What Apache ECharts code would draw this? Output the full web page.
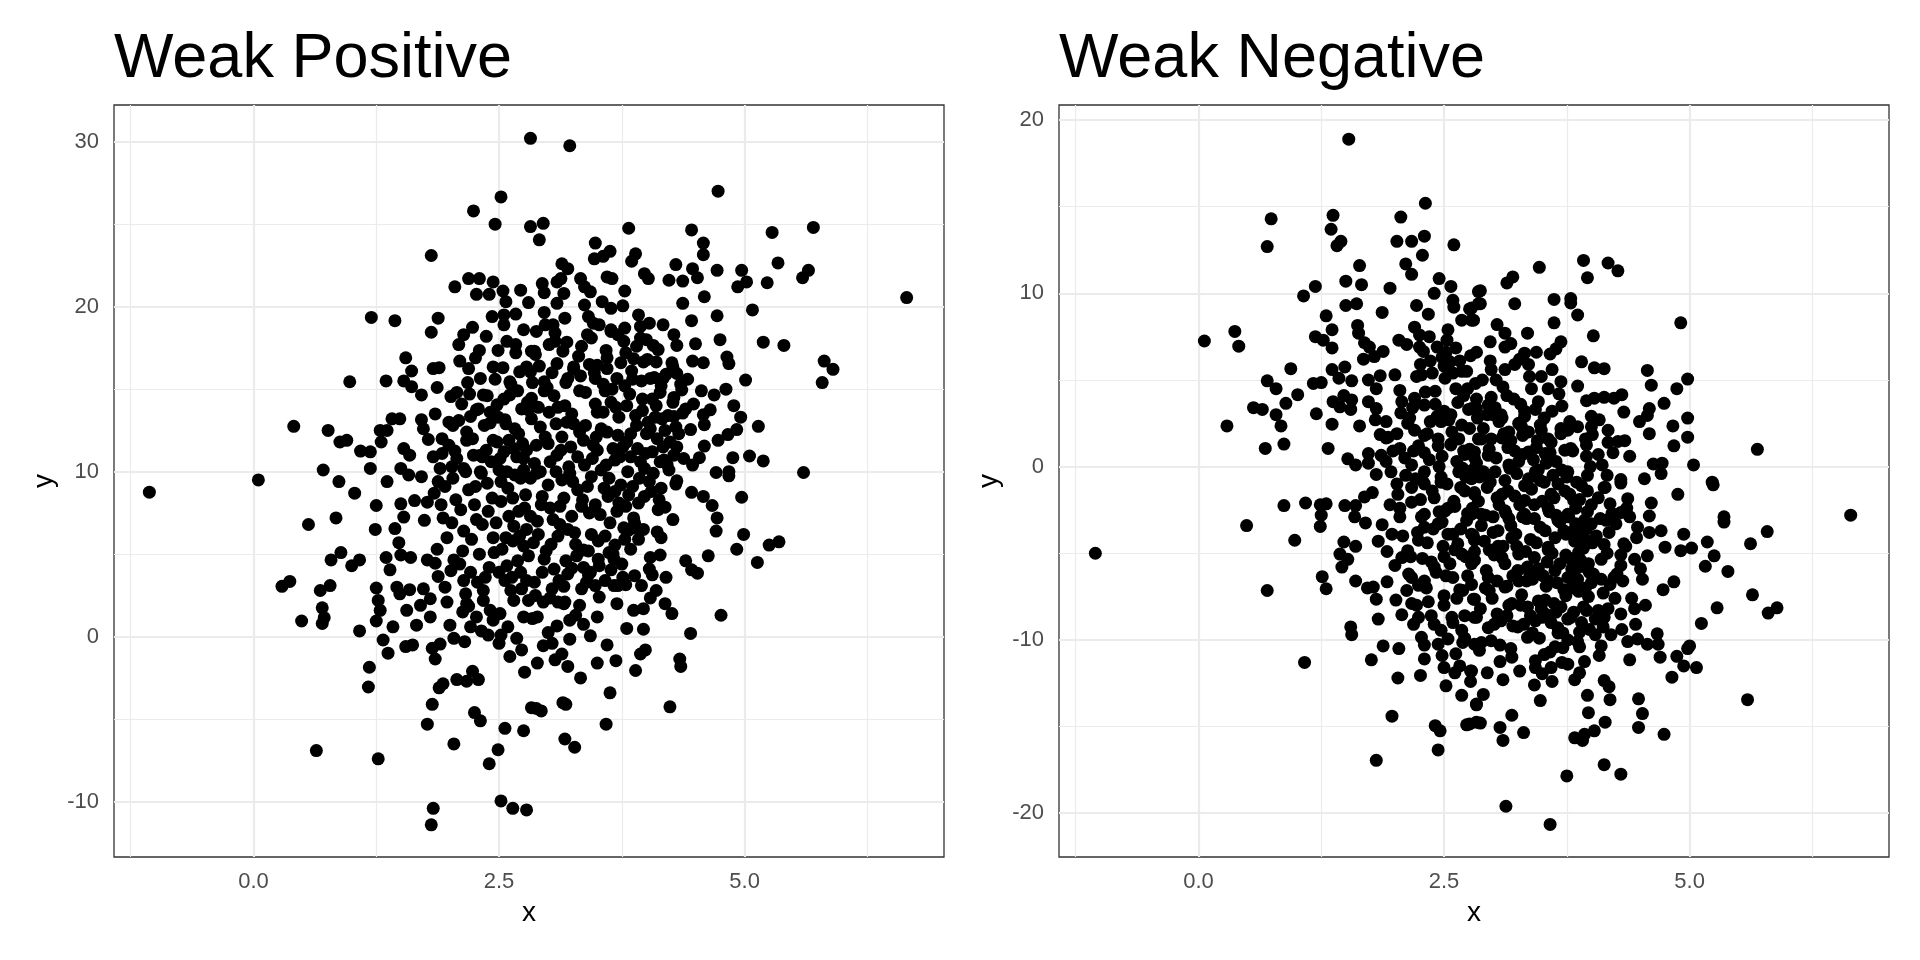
<!DOCTYPE html>
<html>
<head>
<meta charset="utf-8">
<title>Weak Positive / Weak Negative</title>
<script src="https://cdn.jsdelivr.net/npm/echarts@6/dist/echarts.min.js"></script>
<style>
  html, body { margin: 0; padding: 0; background: #ffffff; }
  #chart { width: 1920px; height: 960px; }
</style>
</head>
<body>
<div id="chart"></div>
<script>
const panelTitles = ['Weak Positive', 'Weak Negative'];

const xTicks = [0, 2.5, 5];
const xMinor = [-1.25, 1.25, 3.75, 6.25];
const posYTicks = [-10, 0, 10, 20, 30];
const posYMinor = [-5, 5, 15, 25];
const negYTicks = [-20, -10, 0, 10, 20];
const negYMinor = [-15, -5, 5, 15];

const xRange = [-1.42, 7.03];
const posYRange = [-13.35, 32.22];
const negYRange = [-22.53, 20.87];

// [x, y]
const weakPositive = [
  [2.82,30.2],[2.52,26.65],[2.24,25.8],[2.46,25.0],[2.82,24.85],[1.81,23.1],[2.05,21.2],[2.19,21.7],[2.3,21.7],[2.44,21.5],
  [2.27,20.75],[2.4,20.75],[2.54,20.95],[2.72,21.0],[2.8,20.25],[2.57,20.3],[2.55,19.5],[2.43,19.4],[2.67,19.55],[2.55,18.9],
  [1.2,19.35],[1.44,19.15],[1.88,19.3],[1.81,18.45],[2.23,18.75],[2.14,18.3],[2.09,17.7],[2.3,17.35],[2.49,17.35],[2.67,17.2],
  [2.83,17.3],[1.55,16.9],[1.61,16.1],[1.83,16.25],[1.89,16.3],[2.1,16.7],[2.19,16.25],[2.31,15.65],[2.44,16.35],[2.61,15.45],
  [2.71,16.05],[2.78,16.35],[0.98,15.45],[1.35,15.5],[1.53,15.5],[1.61,15.15],[1.71,14.65],[1.87,15.1],[2.01,14.55],[2.07,14.8],
  [2.34,14.65],[2.48,14.05],[2.61,14.65],[2.83,14.45],[2.27,13.75],[2.21,13.35],[2.41,12.95],[2.56,13.15],[2.8,13.75],[0.41,12.75],
  [0.76,12.5],[0.88,11.8],[0.95,11.9],[1.09,11.25],[1.19,11.2],[1.19,10.2],[0.71,10.1],[0.05,9.5],[0.87,9.4],[1.3,11.8],
  [1.29,12.5],[1.41,13.2],[1.49,13.2],[1.36,12.5],[1.71,13.15],[1.73,12.6],[1.99,13.0],[1.78,11.95],[1.92,12.0],[1.53,11.4],
  [1.59,11.0],[1.83,10.9],[1.92,11.1],[2.05,11.25],[2.17,11.9],[2.02,10.3],[1.5,10.2],[1.58,9.8],[1.71,9.7],[1.36,9.4],
  [2.31,11.0],[2.48,11.8],[2.65,11.4],[2.51,10.8],[2.75,10.8],[2.14,10.2],[2.31,10.0],[2.58,10.0],[1.88,9.4],[2.72,9.6],
  [3.22,29.75],[4.73,27.0],[2.95,25.05],[2.91,24.05],[3.82,24.75],[4.46,24.65],[4.58,23.85],[4.58,23.15],[5.28,24.5],[5.7,24.8],
  [3.48,23.85],[3.56,23.05],[3.63,23.35],[3.47,22.9],[3.89,23.2],[3.85,22.75],[3.14,22.6],[3.2,22.3],[3.98,22.0],[4.02,21.7],
  [4.3,22.55],[4.23,21.6],[4.37,21.55],[4.47,22.3],[4.52,21.75],[4.72,22.2],[4.97,22.2],[5.02,21.5],[4.93,21.2],[5.23,21.45],
  [5.34,22.65],[5.65,22.2],[5.59,21.75],[6.65,20.55],[2.94,21.4],[2.96,20.85],[3.09,21.5],[3.13,21.7],[3.16,20.8],[3.09,20.2],
  [3.33,21.7],[3.37,21.2],[3.43,20.9],[3.6,21.8],[3.65,21.7],[3.78,20.95],[2.96,19.65],[3.37,20.1],[3.55,20.3],[3.64,19.9],
  [3.76,20.05],[4.37,20.2],[4.59,20.6],[4.72,19.45],[5.08,19.8],[4.46,19.15],[3.41,19.4],[3.46,19.0],[3.05,18.9],[3.07,18.4],
  [2.88,18.5],[3.64,18.6],[3.78,18.7],[3.92,19.5],[4.03,19.0],[3.94,18.8],[3.94,18.1],[4.17,18.9],[4.28,18.3],[4.31,17.65],
  [4.07,17.65],[3.44,18.1],[3.19,17.85],[3.34,17.6],[3.01,17.7],[2.86,17.3],[3.59,17.35],[3.77,17.9],[3.79,17.2],[4.5,17.75],
  [4.75,18.0],[5.19,17.85],[5.4,17.65],[4.47,16.7],[4.58,16.6],[4.82,16.95],[4.84,16.55],[4.27,16.35],[4.31,15.95],[4.1,16.65],
  [3.97,16.65],[3.87,16.85],[3.5,16.45],[3.6,16.25],[3.26,16.35],[3.09,16.55],[2.82,16.05],[2.96,15.45],[3.2,15.65],[3.48,15.65],
  [3.7,15.65],[4.04,15.65],[4.17,15.65],[5.01,15.55],[5.81,16.7],[5.9,16.2],[5.79,15.4],[4.36,14.95],[4.56,14.9],[4.69,14.65],
  [4.81,15.0],[4.89,14.0],[4.96,13.3],[5.14,12.75],[4.92,12.55],[4.83,12.25],[4.73,11.9],[4.59,11.55],[4.58,13.45],[4.65,13.75],
  [4.59,12.85],[4.45,12.55],[4.28,13.35],[4.37,13.55],[4.17,11.5],[4.31,11.5],[4.28,11.0],[4.14,10.6],[4.21,10.45],[4.47,10.4],
  [4.54,10.85],[4.88,10.85],[5.05,10.95],[5.19,10.65],[4.71,9.95],[4.84,10.0],[4.84,9.75],[5.6,9.95],[4.31,9.45],
  [-1.06,8.76],[0.56,6.8],[0.84,7.2],[1.03,8.7],[1.25,7.95],[1.24,6.5],[0.79,4.65],[0.89,5.1],[1.0,4.3],[1.08,4.65],
  [0.29,3.05],[0.37,3.35],[0.68,2.8],[0.78,3.1],[0.49,0.95],[0.7,1.75],[0.72,1.15],[0.7,0.8],[1.08,0.35],[1.25,2.95],
  [1.27,2.2],[1.29,1.6],[1.25,0.95],[1.35,4.8],[1.39,4.05],[1.48,5.7],[1.44,6.55],[1.53,7.25],[1.5,8.05],[1.64,8.25],
  [1.77,8.15],[1.91,8.0],[1.74,7.05],[1.5,4.95],[1.6,4.8],[1.46,3.0],[1.49,2.6],[1.59,2.85],[1.73,2.9],[1.56,1.6],
  [1.66,0.7],[1.8,1.2],[1.8,2.3],[1.7,1.9],[1.77,4.65],[1.85,4.45],[1.88,3.65],[1.95,3.0],[1.97,2.1],[2.0,0.7],
  [2.04,-0.1],[2.15,-0.3],[2.21,0.6],[2.19,1.85],[2.32,0.35],[1.42,0.6],[1.32,-0.2],[1.37,-1.0],[1.55,-0.6],[1.62,-0.5],
  [1.82,-0.7],[1.9,-0.45],[1.85,-1.35],[1.18,-1.85],[1.17,-3.05],[1.89,-3.1],[1.93,-2.85],[2.07,-2.6],[2.17,-2.7],[2.23,-2.1],
  [2.29,-2.6],[1.82,-4.1],[1.77,-5.3],[2.25,-4.6],[2.31,-5.1],[2.04,-6.5],[2.56,-5.55],[2.75,-5.7],[2.49,-6.85],[2.4,-7.7],
  [0.64,-6.9],[1.27,-7.4],[1.83,-10.4],[1.81,-11.4],[2.52,-9.95],[2.64,-10.4],[2.78,-10.5],[2.5,-0.4],[2.61,-1.2],[2.68,-0.1],
  [2.76,-2.15],[2.83,-4.3],[2.44,1.0],[2.52,0.1],[2.04,4.65],[2.14,3.4],[2.17,2.0],[2.34,2.8],[2.41,1.6],[2.56,3.4],
  [2.65,2.2],[2.75,1.2],[2.78,3.4],
  [4.97,8.45],[4.46,8.75],[4.58,8.5],[4.67,7.95],[4.72,7.2],[4.71,6.4],[4.99,6.2],[4.92,5.3],[5.13,4.5],[5.25,5.55],
  [5.35,5.75],[4.63,4.9],[4.4,4.6],[4.46,4.05],[4.52,3.85],[4.27,7.1],[4.19,7.85],[4.11,6.35],[4.3,9.25],[4.15,9.0],
  [4.76,1.3],[4.45,0.2],[4.26,1.4],[4.19,2.0],[4.06,3.75],[4.04,4.8],[4.14,4.95],[3.84,5.3],[3.91,6.55],[3.82,6.45],
  [3.68,5.55],[3.67,4.7],[3.64,4.05],[3.95,3.1],[4.04,2.35],[3.97,1.7],[3.97,0.45],[3.7,2.0],[3.76,3.6],[3.71,3.1],
  [3.79,3.15],[3.58,3.4],[3.48,3.1],[3.34,2.9],[3.41,3.75],[3.16,3.05],[3.24,4.15],[3.36,5.25],[3.51,4.7],[3.02,2.35],
  [3.1,2.1],[3.17,2.1],[2.87,2.5],[2.89,1.2],[3.22,1.0],[3.36,0.75],[3.43,0.05],[3.22,-0.15],[3.09,0.65],[3.0,0.25],
  [2.95,-0.55],[3.07,-1.4],[3.14,-1.05],[3.5,-1.6],[3.69,-1.45],[3.94,-1.05],[3.99,-0.8],[3.89,-2.05],[4.34,-1.35],[4.35,-1.8],
  [3.33,-2.5],[3.63,-3.4],[3.15,-4.0],[3.18,-4.1],[2.88,-4.35],[2.93,-4.5],[4.24,-4.25],[3.59,-5.3],[3.17,-6.2],[3.27,-6.7],
  [2.03,9.6],[2.11,7.7],[2.17,12.4],[2.22,5.9],[2.26,9.1],[2.29,13.8],[2.33,6.8],[2.37,11.3],[2.4,4.2],[2.43,8.4],
  [2.46,15.6],[2.5,10.1],[2.53,5.3],[2.57,12.9],[2.6,7.3],[2.63,3.6],[2.66,9.8],[2.69,14.9],[2.71,6.1],[2.74,11.7],
  [2.77,8.6],[2.8,4.9],[2.83,13.2],[2.86,10.5],[2.89,7.0],[2.91,16.4],[2.94,3.9],[2.97,12.1],[3.0,9.2],[3.03,5.6],
  [3.06,14.6],[3.09,11.0],[3.12,7.9],[3.15,17.3],[3.18,4.6],[3.21,10.3],[3.24,13.5],[3.27,6.3],[3.3,8.9],[3.33,15.8],
  [3.36,11.9],[3.39,3.3],[3.42,7.5],[3.45,10.8],[3.48,14.1],[3.51,5.8],[3.54,12.6],[3.57,9.0],[3.6,16.9],[3.63,6.9],
  [3.66,11.4],[3.69,13.9],[3.72,8.1],[3.75,4.4],[3.78,15.2],[3.81,10.0],[3.84,12.3],[3.87,7.2],[3.9,17.6],[3.93,9.6],
  [3.96,14.4],[3.99,11.1],[4.02,13.0],[4.05,8.8],[4.08,15.7],[4.11,12.0],[4.14,14.8],[4.18,10.7],
  [2.07,10.8],[2.14,6.4],[2.19,8.9],[2.24,11.0],[2.28,3.3],[2.32,9.9],[2.35,12.8],[2.39,7.6],[2.42,10.6],[2.45,5.1],
  [2.49,13.3],[2.52,8.2],[2.55,11.2],[2.58,4.3],[2.62,15.3],[2.65,6.7],[2.68,10.9],[2.7,12.3],[2.73,2.9],[2.76,7.8],
  [2.79,14.2],[2.82,9.6],[2.85,5.7],[2.88,11.6],[2.9,13.9],[2.93,8.0],[2.96,4.7],[2.99,15.1],[3.02,10.6],[3.05,7.1],
  [3.08,12.9],[3.11,3.4],[3.14,9.5],[3.17,14.0],[3.2,6.5],[3.23,11.5],[3.26,16.2],[3.29,4.9],[3.32,12.4],[3.35,8.3],
  [3.38,14.8],[3.41,5.2],[3.44,9.7],[3.47,16.0],[3.5,11.3],[3.53,7.4],[3.56,13.6],[3.59,10.4],[3.62,5.1],[3.65,15.0],
  [3.68,8.8],[3.71,12.2],[3.74,16.6],[3.77,6.6],[3.8,11.8],[3.83,14.7],[3.86,9.1],[3.89,13.4],[3.92,5.9],[3.95,15.5],
  [3.98,10.2],[4.01,16.8],[4.04,12.6],[4.07,9.9],[4.1,14.0],[4.13,8.3],[4.16,13.2],[4.2,15.9],[4.24,11.8],[4.28,14.5],
  [2.02,6.9],[2.1,4.4],[2.16,2.6],[2.2,14.7],[2.27,7.1],[2.34,2.2],[2.38,14.6],[2.44,6.0],[2.51,1.4],[2.54,16.3],
  [2.59,9.0],[2.64,5.8],[2.67,17.7],[2.72,3.9],[2.75,10.1],[2.78,6.5],[2.84,1.1],[2.87,17.1],[2.92,10.0],[2.95,2.1],
  [3.01,13.6],[3.04,2.9],[3.07,17.9],[3.1,6.1],[3.13,11.3],[3.16,2.0],[3.19,13.0],[3.25,9.4],[3.28,1.3],[3.31,17.0],
  [3.37,10.4],[3.4,18.3],[3.43,3.9],[3.49,12.1],[3.52,2.4],[3.58,14.9],[3.61,8.5],[3.64,18.5],[3.67,3.1],[3.73,10.9],
  [3.79,7.9],[3.85,16.1],[3.88,3.7],[3.91,11.4],[3.97,6.5],[4.0,18.0],[4.03,4.1],[4.06,14.4],[4.12,17.4],[4.15,6.0],
  [4.22,13.4],[4.26,16.6],[4.3,12.7],[4.35,15.3],[4.4,13.8],
  [2.06,8.3],[2.09,13.1],[2.13,5.2],[2.16,10.0],[2.21,3.9],[2.23,12.0],[2.25,8.0],[2.3,5.0],[2.33,10.9],[2.36,3.6],
  [2.38,9.3],[2.41,13.6],[2.44,11.9],[2.47,6.9],[2.5,3.9],[2.52,9.4],[2.55,14.4],[2.57,6.0],[2.6,11.9],[2.62,2.8],
  [2.64,8.4],[2.66,12.6],[2.69,4.6],[2.7,7.6],[2.73,13.8],[2.75,5.5],[2.78,11.3],[2.8,2.2],[2.82,7.3],[2.84,15.4],
  [2.86,3.3],[2.88,9.9],[2.9,6.2],[2.92,12.7],[2.94,8.5],[2.96,14.9],[2.98,5.2],[3.0,11.7],[3.02,7.8],[3.04,16.0],
  [3.06,4.1],[3.08,10.0],[3.1,13.9],[3.12,6.8],[3.14,12.1],[3.16,8.4],[3.18,15.4],[3.2,3.8],[3.22,9.9],[3.24,7.3],
  [3.26,12.9],[3.28,5.6],[3.3,10.9],[3.32,14.9],[3.34,7.9],[3.36,4.2],[3.38,12.8],[3.4,9.1],[3.42,16.5],[3.44,6.2],
  [3.46,11.6],[3.48,8.0],[3.5,13.6],[3.52,4.3],[3.54,10.1],[3.56,15.3],[3.58,6.1],[3.6,12.4],[3.62,9.6],[3.64,14.2],
  [3.66,5.0],[3.68,10.7],[3.7,7.6],[3.72,13.3],[3.74,9.2],[3.76,11.5],[3.78,5.9],[3.8,14.0],[3.82,8.6],[3.84,10.9],
  [3.86,15.6],[3.88,6.9],[3.9,12.8],[3.92,8.1],[3.94,10.6],[3.96,13.7],[3.98,8.5],[4.0,12.3],[4.03,9.4],[4.06,11.2],
  [4.09,13.3],[4.12,7.7],[4.15,15.2],[4.19,12.5],[4.23,10.1],[4.27,14.2],[4.33,12.3],[4.38,10.8],[4.42,15.6],[4.48,14.1],
  [1.95,9.1],[1.97,6.0],[1.99,11.6],[2.01,4.0],[2.03,12.8],[1.93,7.2],[1.9,10.2],[1.87,5.3],[1.85,13.5],[1.84,8.7],
  [2.12,14.1],[2.18,15.4],[2.26,16.9],[2.37,18.2],[2.58,17.9],[2.75,18.6],[2.97,18.9],[3.17,19.3],[3.52,18.9],[3.71,18.3],
  [2.13,1.5],[2.27,1.2],[2.39,0.1],[2.59,0.6],[2.73,-0.8],[2.89,-1.6],[3.04,-0.4],[3.2,-1.8],[3.32,1.9],[3.5,1.2],
  [3.6,-0.5],[3.8,0.5],[3.87,1.6],[4.1,2.8],[4.2,3.6]
];

// [x, y]
const weakNegative = [
  [1.53,18.9],[2.31,15.2],[0.74,14.3],[0.7,12.7],[1.37,14.5],[1.35,13.7],[1.45,13.0],[1.41,12.75],[2.06,14.4],[2.02,13.0],
  [2.17,13.0],[2.3,13.3],[2.28,12.2],[2.6,12.8],[2.11,11.7],[2.17,11.1],[1.64,11.6],[1.5,10.7],[1.66,10.5],[1.19,10.4],
  [1.07,9.85],[1.95,10.3],[2.45,10.85],[2.4,10.0],[2.57,10.4],[2.59,9.6],[2.6,9.2],[2.76,9.1],[2.68,8.45],[2.78,8.45],
  [2.85,10.1],[2.85,9.4],[1.5,9.3],[1.61,9.4],[1.87,8.9],[2.22,9.3],[2.34,8.8],[2.54,7.9],[1.3,8.7],[1.36,7.9],
  [1.62,8.15],[1.63,7.7],[1.19,7.5],[1.27,7.3],[1.36,6.85],[0.37,7.8],[0.41,6.95],[0.06,7.25],[1.69,7.15],[1.74,6.9],
  [2.04,7.3],[2.12,7.05],[2.2,8.05],[2.25,7.6],[2.35,7.5],[2.29,6.65],[2.43,6.9],[2.62,6.85],[2.48,6.3],[2.56,6.05],
  [1.68,6.2],[1.79,6.35],[1.88,6.65],[2.26,5.9],[0.94,5.65],[0.7,4.95],[0.79,4.5],[1.17,4.8],[1.25,4.85],[1.01,4.15],
  [0.89,3.65],[0.56,3.4],[0.65,3.3],[0.79,3.0],[0.84,2.35],[0.29,2.35],[0.68,1.05],[0.87,1.3],[1.32,1.05],[1.2,3.05],
  [1.36,2.45],[1.36,5.6],[1.49,5.75],[1.43,5.1],[1.56,4.95],[1.37,3.75],[1.44,3.45],[1.48,4.1],[1.56,3.85],[1.55,3.3],
  [1.73,5.0],[1.85,5.25],[1.81,4.5],[2.0,5.3],[2.05,4.4],[2.22,5.2],[1.73,3.75],[1.81,3.35],[1.64,2.35],[1.8,2.7],
  [1.91,2.6],[1.85,1.85],[1.91,1.65],[2.02,1.9],[1.52,0.45],[1.6,0.1],[1.73,0.75],[1.73,0.2],[1.86,0.65],[1.91,0.3],
  [1.81,-0.45],[1.96,-0.3],[2.05,1.05],[2.15,2.8],[2.07,3.75],[2.2,3.95],[2.3,3.55],[2.41,4.35],[2.51,5.1],[2.59,5.4],
  [2.73,5.5],[2.74,4.5],[2.47,2.6],[2.57,3.0],[2.68,2.4],[2.78,3.35],[2.3,1.8],[2.44,1.6],[2.57,1.25],[2.71,0.7],
  [2.17,0.1],[2.3,-0.3],[2.47,-0.9],[2.65,-0.3],[2.78,-0.7],[2.85,1.6],[2.81,0.5],
  [3.92,11.9],[4.17,11.75],[4.27,11.3],[3.96,10.9],[3.47,11.5],[3.2,10.95],[3.14,10.6],[2.87,10.15],[2.87,9.4],[3.22,9.4],
  [3.62,9.65],[3.79,9.7],[3.79,9.45],[3.86,8.75],[3.62,8.3],[4.91,8.3],[4.02,7.55],[3.69,7.2],[3.64,6.8],[3.58,6.5],
  [3.35,7.7],[3.04,8.2],[3.12,7.7],[2.97,7.2],[3.18,7.1],[2.78,9.15],[2.8,8.45],[3.32,6.55],[3.22,5.9],[3.36,5.9],
  [3.9,6.05],[4.03,5.7],[4.13,5.65],[4.57,5.55],[4.61,4.7],[4.98,5.05],[4.87,4.5],[3.86,4.65],[3.69,4.9],[3.49,5.2],
  [3.56,4.5],[3.39,4.5],[2.98,5.6],[3.12,5.6],[3.03,5.0],[4.03,3.95],[4.13,4.0],[4.23,3.95],[4.31,4.15],[4.33,3.15],
  [4.59,3.35],[4.57,2.95],[4.74,3.65],[4.49,2.6],[4.98,2.8],[4.83,2.35],[4.59,1.9],[4.98,1.7],[4.84,1.2],[5.69,1.0],
  [5.04,0.1],[5.23,-0.9],[4.63,0.15],[4.72,0.2],[4.71,-0.4],[4.54,-0.7],[4.17,2.1],[4.0,2.9],[4.0,2.3],[4.01,1.85],
  [3.78,2.6],[3.69,2.2],[3.76,2.1],[4.17,1.4],[4.27,1.45],[4.34,1.5],[4.39,0.6],[3.95,1.25],[3.95,0.6],[4.07,0.7],
  [3.73,0.95],[3.79,1.05],[3.59,1.4],[4.11,0.1],[4.16,-0.5],[3.96,-0.5],[4.3,-0.75],[3.64,0.3],[3.76,-0.3],[3.49,2.1],
  [3.48,2.4],[3.32,3.2],[3.46,3.75],[2.95,3.55],[2.83,3.35],[3.09,2.8],[3.16,2.0],[3.3,1.8],[3.36,0.85],[3.09,1.65],
  [2.95,0.65],[2.81,0.85],[3.16,0.1],[2.95,-0.5],[3.43,-0.3],[3.53,0.75],
  [-1.05,-5.0],[0.49,-3.4],[0.7,-7.15],[0.87,-2.25],[1.09,-2.1],[0.98,-4.25],[1.24,-2.2],[1.3,-2.15],[1.25,-2.8],[1.24,-3.45],
  [1.49,-2.25],[1.6,-2.25],[1.59,-2.9],[1.7,-3.25],[1.69,-1.75],[1.77,-1.5],[1.48,-4.35],[1.6,-4.6],[1.44,-5.05],[1.52,-5.35],
  [1.46,-5.8],[1.26,-6.35],[1.3,-7.05],[1.6,-6.6],[1.72,-7.0],[1.78,-6.95],[1.81,-7.65],[1.92,-6.65],[1.83,-4.3],[1.92,-4.9],
  [1.87,-3.35],[1.97,-3.9],[2.0,-5.7],[2.07,-5.25],[2.13,-4.85],[2.01,-7.7],[2.07,-8.55],[1.83,-8.8],[1.55,-9.25],[1.56,-9.7],
  [1.08,-11.3],[1.76,-11.15],[1.88,-10.35],[2.04,-10.5],[2.03,-12.2],[2.26,-12.05],[1.97,-14.4],[1.81,-16.95],[2.41,-14.95],[2.46,-15.25],
  [2.44,-16.35],[2.5,-11.6],[2.52,-12.65],[2.61,-11.9],[2.66,-11.5],[2.77,-11.8],[2.68,-13.2],[2.73,-14.9],[2.83,-13.75],[2.83,-14.75],
  [2.05,-2.9],[2.17,-2.05],[2.03,-1.6],[2.17,-6.4],[2.12,-7.15],[2.17,-7.9],[2.24,-6.85],[2.3,-6.6],[2.24,-8.7],[2.19,-9.1],
  [2.34,-7.8],[2.37,-8.6],[2.5,-7.45],[2.5,-8.0],[2.47,-9.45],[2.27,-9.85],[2.3,-10.3],[2.44,-10.25],[2.54,-9.95],[2.59,-9.0],
  [2.69,-10.15],[2.71,-8.6],[2.68,-9.45],[2.81,-10.25],[2.59,-6.4],[2.69,-7.15],[2.8,-7.65],[2.81,-8.7],[2.28,-5.3],[2.4,-5.8],
  [2.5,-5.2],[2.68,-5.05],[2.78,-5.6],[2.24,-4.25],[2.3,-3.5],[2.44,-3.3],[2.54,-3.9],[2.64,-4.45],[2.78,-3.9],[2.3,-2.75],
  [2.4,-1.8],[2.61,-2.3],[2.51,-2.55],[2.71,-1.4],[2.78,-2.75],[2.17,-1.2],[2.3,-1.0],
  [5.24,-1.05],[4.88,-1.6],[6.64,-2.8],[5.35,-2.9],[5.35,-3.2],[5.79,-3.75],[5.62,-4.45],[5.18,-4.35],[5.25,-5.15],[5.16,-5.75],
  [5.39,-6.05],[5.64,-7.4],[5.89,-8.15],[5.8,-8.45],[5.28,-8.15],[5.12,-9.05],[5.59,-13.45],[4.94,-3.9],[4.91,-4.85],[5.02,-4.7],
  [4.75,-4.65],[4.71,-3.7],[4.59,-3.8],[4.57,-5.15],[4.61,-2.1],[4.59,-2.85],[4.37,-1.85],[4.39,-2.9],[4.46,-4.1],[4.44,-5.35],
  [4.52,-6.5],[4.5,-5.9],[4.73,-7.1],[4.84,-6.65],[4.32,-6.6],[4.23,-6.4],[4.3,-5.1],[4.33,-4.45],[4.15,-3.1],[4.18,-3.8],
  [4.19,-2.15],[4.3,-2.65],[4.3,-0.95],[4.44,-8.2],[4.45,-9.1],[4.3,-8.5],[4.67,-9.65],[4.68,-10.25],[4.37,-10.1],[4.47,-9.95],
  [4.57,-10.25],[5.0,-10.35],[4.98,-10.5],[4.87,-10.95],[4.94,-11.5],[5.07,-11.6],[4.82,-12.15],[4.7,-11.0],[4.39,-11.15],[4.48,-13.4],
  [4.52,-14.25],[4.48,-15.05],[4.74,-15.45],[4.13,-12.35],[4.18,-12.7],[4.19,-13.45],[4.14,-14.75],[3.96,-13.2],[3.97,-14.2],[4.03,-15.25],
  [3.93,-15.45],[3.83,-15.65],[3.91,-15.8],[3.83,-12.3],[3.93,-11.25],[3.88,-10.4],[4.1,-10.35],[4.12,-9.25],[4.13,-8.7],[4.07,-8.3],
  [3.95,-8.3],[3.88,-9.55],[3.79,-8.7],[4.13,-17.2],[4.3,-17.75],[3.75,-17.85],[3.13,-19.6],[3.58,-20.65],[3.48,-13.5],[3.19,-14.35],
  [3.31,-15.35],[3.07,-15.05],[3.1,-15.8],[2.87,-14.8],[2.76,-14.85],[2.9,-13.15],[2.83,-13.7],[2.78,-11.8],[3.07,-11.25],[3.18,-10.5],
  [2.88,-10.15],[2.98,-10.05],[3.5,-11.95],[3.59,-11.6],[3.43,-11.2],[3.52,-10.85],[3.63,-10.4],[3.71,-10.45],[3.66,-9.6],[3.69,-8.1],
  [3.74,-7.45],[2.83,-8.7],[2.81,-7.65],[3.01,-9.1],[3.04,-8.5],[3.35,-9.85],[3.25,-9.25],[3.43,-8.9],[3.53,-8.5],[3.35,-8.1],
  [3.46,-7.75],[3.19,-7.9],[2.96,-7.15],[3.12,-6.95],[3.26,-6.6],[3.36,-6.0],[3.56,-6.6],[3.63,-6.0],[3.76,-6.4],[3.87,-5.8],
  [4.0,-6.7],[3.97,-5.6],[4.1,-5.35],[3.87,-4.95],[3.93,-4.15],[4.0,-3.3],[3.82,-3.7],[3.76,-2.75],[3.82,-1.95],[3.96,-1.4],
  [4.13,-1.2],[3.59,-1.6],[3.66,-3.1],[3.53,-3.7],[3.56,-4.65],[3.42,-5.25],[3.32,-2.75],[3.32,-1.95],[3.15,-1.4],[3.12,-2.55],
  [3.05,-3.7],[3.19,-4.1],[3.26,-5.05],[3.09,-5.25],[2.95,-6.4],[2.81,-5.4],[2.81,-4.25],[2.88,-2.75],[2.81,-1.6],
  [2.2,2.1],[2.26,-1.9],[2.31,4.3],[2.35,0.4],[2.39,-3.6],[2.43,2.9],[2.47,-0.6],[2.5,5.8],[2.54,-2.4],[2.57,1.3],
  [2.61,-4.8],[2.64,3.7],[2.67,-1.2],[2.7,0.9],[2.73,-3.1],[2.76,2.2],[2.79,-0.2],[2.82,4.8],[2.85,-2.0],[2.88,1.6],
  [2.91,-4.3],[2.94,3.0],[2.97,-0.9],[3.0,-2.9],[3.03,0.5],[3.06,2.6],[3.09,-1.6],[3.12,-5.6],[3.15,1.1],[3.18,-3.4],
  [3.21,3.9],[3.24,-0.4],[3.27,-2.2],[3.3,0.7],[3.33,-4.9],[3.36,2.0],[3.39,-1.3],[3.42,-3.0],[3.45,1.5],[3.48,-0.8],
  [3.51,-6.3],[3.54,0.2],[3.57,-2.6],[3.6,3.2],[3.63,-4.1],[3.66,-1.0],[3.69,1.9],[3.72,-3.7],[3.75,-0.6],[3.78,-5.3],
  [3.81,0.9],[3.84,-2.4],[3.87,-7.2],[3.9,-1.1],[3.93,-3.1],[3.96,-5.9],[3.99,0.0],
  [2.23,-3.8],[2.28,-0.8],[2.33,1.9],[2.37,-5.5],[2.41,3.6],[2.45,-2.6],[2.48,0.6],[2.52,-6.3],[2.55,2.7],[2.59,-3.9],
  [2.62,4.5],[2.66,-7.1],[2.69,-0.1],[2.72,-5.2],[2.75,3.3],[2.78,-6.8],[2.81,-1.5],[2.84,2.8],[2.87,-8.2],[2.9,-0.3],
  [2.93,-6.0],[2.96,1.0],[2.99,-7.6],[3.02,3.4],[3.05,-4.6],[3.08,-8.9],[3.11,1.9],[3.14,-6.9],[3.17,-0.1],[3.2,-9.2],
  [3.23,-3.9],[3.26,2.5],[3.29,-7.4],[3.32,-1.1],[3.35,-5.8],[3.38,-8.6],[3.41,0.4],[3.44,-4.4],[3.47,-9.9],[3.5,-2.0],
  [3.53,-7.7],[3.56,-4.8],[3.59,-9.0],[3.62,-1.8],[3.65,-6.7],[3.68,-3.2],[3.71,-9.6],[3.74,-5.1],[3.77,-2.9],[3.8,-7.0],
  [3.83,-4.3],[3.86,-10.1],[3.89,-5.4],[3.92,-8.1],[3.95,-3.6],[3.98,-9.4],[4.02,-6.2],[4.05,-4.0],[4.08,-10.9],[4.12,-7.3],
  [4.16,-5.0],[4.2,-9.7],[4.24,-7.6],
  [2.05,-2.4],[2.1,0.5],[2.14,-6.2],[2.18,3.4],[2.22,-8.0],[2.27,5.3],[2.32,-7.0],[2.36,6.1],[2.4,-9.1],[2.44,1.2],
  [2.49,-4.6],[2.53,7.3],[2.58,-8.7],[2.63,0.3],[2.68,5.5],[2.71,-9.9],[2.74,-2.7],[2.77,6.4],[2.8,-4.0],[2.83,0.2],
  [2.86,-10.6],[2.89,5.0],[2.92,-2.8],[2.95,-9.3],[2.98,4.0],[3.01,-5.1],[3.04,-1.8],[3.07,-10.3],[3.1,4.6],[3.13,-2.7],
  [3.16,-8.0],[3.19,-11.0],[3.22,0.9],[3.25,-6.0],[3.28,3.6],[3.31,-9.1],[3.34,-3.0],[3.37,5.2],[3.4,-6.5],[3.43,-11.6],
  [3.46,-0.2],[3.49,-8.2],[3.52,2.8],[3.55,-5.5],[3.58,-10.7],[3.61,-0.5],[3.64,-8.4],[3.67,4.2],[3.7,-11.3],[3.73,-1.4],
  [3.76,-8.8],[3.79,2.4],[3.82,-6.0],[3.85,-0.9],[3.88,-11.9],[3.91,-3.9],[3.94,1.6],[3.97,-7.5],[4.0,-2.2],[4.04,-8.8],
  [4.09,-3.0],[4.14,-1.2],[4.19,-6.8],[4.25,-3.3],[4.3,-5.7],[4.36,-2.4],
  [2.21,-0.7],[2.24,1.2],[2.27,-2.9],[2.3,0.8],[2.33,-4.4],[2.36,2.6],[2.38,-1.4],[2.42,-6.1],[2.45,0.0],[2.48,-3.2],
  [2.5,3.2],[2.53,-1.0],[2.56,-5.6],[2.58,2.0],[2.6,-2.0],[2.63,-7.6],[2.65,1.6],[2.67,-3.6],[2.7,4.1],[2.72,-0.6],
  [2.74,-6.3],[2.76,1.0],[2.79,-2.4],[2.81,-4.9],[2.83,3.9],[2.86,-0.6],[2.88,-3.4],[2.9,2.2],[2.92,-7.0],[2.94,-1.2],
  [2.96,-4.8],[2.98,1.6],[3.0,-3.8],[3.02,-0.3],[3.04,-6.6],[3.06,-2.2],[3.08,3.0],[3.1,-4.6],[3.12,-0.8],[3.14,-8.6],
  [3.16,-3.0],[3.18,1.5],[3.2,-6.3],[3.22,-1.7],[3.24,-4.6],[3.26,0.3],[3.28,-8.0],[3.3,-2.9],[3.32,2.9],[3.34,-6.6],
  [3.36,-0.7],[3.38,-4.2],[3.4,-9.6],[3.42,-2.2],[3.44,1.1],[3.46,-5.9],[3.48,-3.5],[3.5,-8.7],[3.52,-0.9],[3.54,-6.9],
  [3.56,-2.4],[3.58,0.8],[3.6,-5.0],[3.62,-7.9],[3.64,-2.8],[3.66,-9.3],[3.68,-5.6],[3.7,-0.2],[3.72,-7.1],[3.74,-3.9],
  [3.76,-10.0],[3.78,-1.6],[3.8,-5.9],[3.82,-8.4],[3.84,-3.3],[3.86,-6.5],[3.88,-1.9],[3.9,-9.0],[3.92,-4.7],[3.94,-7.0],
  [3.96,-2.6],[3.98,-6.1],[4.01,-4.4],[4.04,-9.7],[4.07,-1.8],[4.1,-6.5],[4.13,-4.5],[4.17,-8.2],[4.21,-2.7],[4.26,-6.2],
  [4.31,-9.4],[4.35,-4.6],[4.41,-7.6],[4.47,-3.5],[4.55,-8.0],
  [2.08,-4.0],[2.11,-0.5],[2.13,2.5],[2.16,-5.2],[2.19,0.9],[2.06,3.1],[2.02,-1.0],[1.98,0.9],[1.95,-2.2],[1.93,1.7],
  [2.25,6.9],[2.38,5.4],[2.52,6.6],[2.66,6.1],[2.83,6.6],[2.97,6.1],[3.12,6.9],[3.27,6.2],[3.44,6.6],[3.6,5.6],
  [2.3,-11.1],[2.48,-10.9],[2.62,-10.8],[2.77,-12.4],[2.94,-11.9],[3.1,-12.3],[3.27,-11.8],[3.42,-12.6],[3.6,-12.4],[3.76,-11.4],
  [3.0,3.0],[3.14,4.1],[3.29,2.3],[3.43,3.3],[3.56,1.6],[3.7,3.5],[3.86,2.3],[3.95,3.8],[4.08,2.7],[4.22,0.8]
];

const chart = echarts.init(document.getElementById('chart'), null, { renderer: 'canvas' });

const FONT = '"Liberation Sans", Arial, Helvetica, sans-serif';
const GRID_COLOR = '#EBEBEB';

function gridLineData(xs, ys, width) {
  const out = [];
  xs.forEach(v => out.push({ xAxis: v, lineStyle: { width: width } }));
  ys.forEach(v => out.push({ yAxis: v, lineStyle: { width: width } }));
  return out;
}

function xAxisFor(idx) {
  return {
    gridIndex: idx,
    type: 'value',
    min: xRange[0],
    max: xRange[1],
    name: 'x',
    nameLocation: 'middle',
    nameGap: 42,
    nameTextStyle: { fontFamily: FONT, fontSize: 28, color: '#000000' },
    axisLine: { show: false },
    splitLine: { show: false },
    axisTick: { show: true, length: 7, customValues: xTicks,
      lineStyle: { color: '#333333', width: 2 } },
    axisLabel: { customValues: xTicks, margin: 14, fontFamily: FONT, fontSize: 22, color: '#4D4D4D',
      formatter: v => v.toFixed(1) }
  };
}

function yAxisFor(idx, range, ticks) {
  return {
    gridIndex: idx,
    type: 'value',
    min: range[0],
    max: range[1],
    name: 'y',
    nameLocation: 'middle',
    nameGap: 56,
    nameRotate: 90,
    nameTextStyle: { fontFamily: FONT, fontSize: 28, color: '#000000' },
    axisLine: { show: false },
    splitLine: { show: false },
    axisTick: { show: true, length: 7, customValues: ticks,
      lineStyle: { color: '#333333', width: 2 } },
    axisLabel: { customValues: ticks, margin: 15, fontFamily: FONT, fontSize: 22, color: '#4D4D4D',
      formatter: v => String(v) }
  };
}

// panel grid lines sit under the points
function gridSeries(idx, yMajor, yMinor) {
  return {
    type: 'scatter',
    xAxisIndex: idx,
    yAxisIndex: idx,
    data: [],
    z: 1,
    silent: true,
    markLine: {
      z: 1,
      silent: true,
      symbol: ['none', 'none'],
      label: { show: false },
      lineStyle: { color: GRID_COLOR, type: 'solid' },
      data: gridLineData(xMinor, yMinor, 1.2).concat(gridLineData(xTicks, yMajor, 2.2))
    }
  };
}

function pointSeries(idx, pts) {
  return {
    type: 'scatter',
    xAxisIndex: idx,
    yAxisIndex: idx,
    data: pts,
    z: 3,
    symbol: 'circle',
    symbolSize: 13,
    itemStyle: { color: '#000000', opacity: 1 },
    silent: true
  };
}

const option = {
  animation: false,
  backgroundColor: '#ffffff',
  title: [
    { text: panelTitles[0], left: 114, top: 28, padding: 0,
      textStyle: { fontFamily: FONT, fontSize: 63, fontWeight: 'normal', color: '#000000' } },
    { text: panelTitles[1], left: 1059, top: 28, padding: 0,
      textStyle: { fontFamily: FONT, fontSize: 63, fontWeight: 'normal', color: '#000000' } }
  ],
  grid: [
    { left: 114, top: 105, width: 830, height: 752, show: true, containLabel: false,
      backgroundColor: '#ffffff', borderColor: '#333333', borderWidth: 1.3 },
    { left: 1059, top: 105, width: 830, height: 752, show: true, containLabel: false,
      backgroundColor: '#ffffff', borderColor: '#333333', borderWidth: 1.3 }
  ],
  xAxis: [xAxisFor(0), xAxisFor(1)],
  yAxis: [yAxisFor(0, posYRange, posYTicks), yAxisFor(1, negYRange, negYTicks)],
  series: [
    gridSeries(0, posYTicks, posYMinor),
    gridSeries(1, negYTicks, negYMinor),
    pointSeries(0, weakPositive),
    pointSeries(1, weakNegative)
  ]
};

chart.setOption(option);
</script>
</body>
</html>
